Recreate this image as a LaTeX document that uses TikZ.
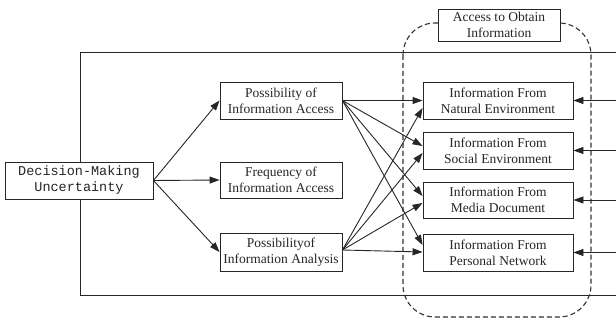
\documentclass[tikz,border=0pt]{standalone}
\usepackage{fontspec}
\setmainfont{Liberation Serif}
\newfontfamily\dmfont{Liberation Mono}
\usetikzlibrary{arrows.meta}
\begin{document}
\begin{tikzpicture}[x=1pt,y=-1pt,
  every node/.style={font=\fontsize{13.5}{16}\selectfont, align=center, inner sep=0pt},
  boxnode/.style={draw, fill=white, line width=0.9pt, draw=black!85, text=black!85},
  midbox/.style={boxnode, minimum width=122pt, minimum height=37pt},
  infobox/.style={boxnode, minimum width=150pt, minimum height=37pt},
  link/.style={line width=0.9pt, draw=black!85, -{Triangle[length=10pt,width=7pt]}},
  frame/.style={line width=0.9pt, draw=black!85},
  channel/.style={line width=1.1pt, draw=black!80, dash pattern=on 5pt off 3pt}]
\useasboundingbox (0,0) rectangle (616,320);
\coordinate (rim) at (616,0);

% outer frame, open to the right
\draw[frame] (616,52) -- (80,52) -- (80,295) -- (616,295);
% dashed group around the information channels
\draw[channel, rounded corners=32pt] (403,23) rectangle (591,317);

% nodes
\node[boxnode, minimum width=148pt, minimum height=37pt, font=\dmfont\fontsize{13.5}{16}\selectfont] (dm) at (79,180.5) {Decision-Making\\Uncertainty};
\node[midbox] (pa) at (281,100.5) {Possibility of\\Information Access};
\node[midbox, minimum height=36pt] (fa) at (281,180) {Frequency of\\Information Access};
\node[midbox, minimum height=38pt] (pn) at (281,252) {Possibilityof\\Information Analysis};
\node[infobox] (nat) at (498,100.5) {Information From\\Natural Environment};
\node[infobox] (soc) at (498,150.5) {Information From\\Social Environment};
\node[infobox, minimum height=36pt] (med) at (498,200) {Information From\\Media Document};
\node[infobox] (per) at (498,252.5) {Information From\\Personal Network};
\node[boxnode, minimum width=122pt, minimum height=32pt] (acc) at (499,25) {Access to Obtain\\Information};

% decision uncertainty to the three possibilities
\draw[link] (dm.east) -- (pa.west);
\draw[link] (dm.east) -- (fa.west);
\draw[link] (dm.east) -- (pn.west);

% possibility of access to every source
\draw[link] (pa.east) -- (nat.west);
\draw[link] (pa.east) -- ([yshift=4.5pt]soc.west);
\draw[link] (pa.east) -- ([yshift=4pt]med.west);
\draw[link] (pa.east) -- ([yshift=7.5pt]per.west);

% possibility of analysis to every source
\draw[link] ([yshift=2pt]pn.east) -- ([yshift=-7.5pt]nat.west);
\draw[link] ([yshift=2pt]pn.east) -- ([yshift=-2.5pt]soc.west);
\draw[link] ([yshift=2pt]pn.east) -- ([yshift=-3pt]med.west);
\draw[link] ([yshift=2pt]pn.east) -- ([yshift=0.5pt]per.west);

% incoming lines from the right edge
\draw[link] (nat.east -| rim) -- (nat.east);
\draw[link] (soc.east -| rim) -- (soc.east);
\draw[link] (med.east -| rim) -- (med.east);
\draw[link] (per.east -| rim) -- (per.east);
\end{tikzpicture}
\end{document}
